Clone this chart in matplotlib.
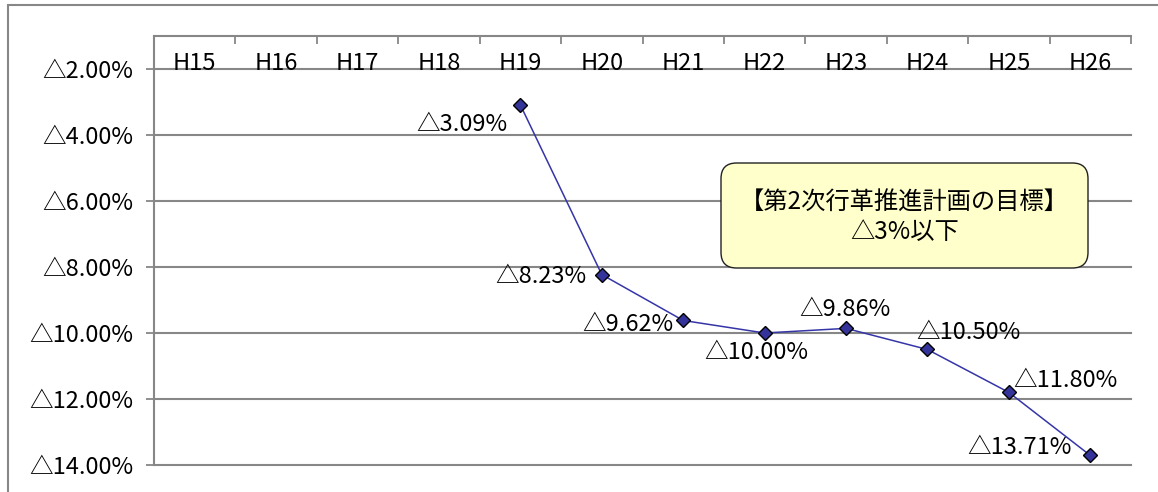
import numpy as np
import matplotlib
matplotlib.use("Agg")
import matplotlib.pyplot as plt
from matplotlib.patches import Rectangle, FancyBboxPatch
from matplotlib.transforms import blended_transform_factory

plt.rcParams['font.family'] = ['Noto Sans CJK JP', 'DejaVu Sans']

# Fiscal years (Heisei era) and personnel-cost reduction rate vs. base year (%)
years = ["H15", "H16", "H17", "H18", "H19", "H20", "H21", "H22", "H23", "H24", "H25", "H26"]
reduction = [np.nan, np.nan, np.nan, np.nan, -3.09, -8.23, -9.62, -10.00, -9.86, -10.50, -11.80, -13.71]
y_ticks = [-2, -4, -6, -8, -10, -12, -14]
goal_title = "【第2次行革推進計画の目標】"
goal_text = "△3%以下"

# label placement: (dx px, dy px, ha, va)
label_place = {
    4: (-13, -20, "right", "center"),
    5: (-15, -2, "right", "center"),
    6: (-10, -4, "right", "center"),
    7: (-8, -20, "center", "center"),
    8: (-1, 19, "center", "center"),
    9: (-11, 17, "left", "center"),
    10: (4, 12, "left", "center"),
    11: (-19, 8, "right", "center"),
}

W, H = 1158, 492
AX_L, AX_R, AX_T, AX_B = 154, 1131, 36, 465
AW, AH = AX_R - AX_L, AX_B - AX_T
fig = plt.figure(figsize=(W / 100, H / 100), dpi=100)
ax = fig.add_axes([AX_L / W, 1 - AX_B / H, AW / W, AH / H])

grey = "#878787"
FS = 17

# outer chart frame (only its top and left edges are in view)
fig.patches.append(Rectangle((8 / W, -0.5), 2.0, 1.5 - 5 / H, transform=fig.transFigure,
                             fill=False, ec=grey, lw=1.5, clip_on=False))

x = np.arange(len(years))
ax.plot(x, reduction, color="#3535a8", lw=1.1, marker="D", markersize=7,
        markerfacecolor="#333399", markeredgecolor="black", markeredgewidth=1.0,
        zorder=5, clip_on=False)

ax.set_xlim(-0.5, len(years) - 0.5)
ax.set_ylim(-14, -1)

# y axis
ax.set_yticks(y_ticks)
ax.set_yticklabels([f"△{abs(v):.2f}%" for v in y_ticks])
ax.tick_params(axis="y", length=6, width=1.3, color=grey, pad=9, labelsize=FS)
for v in y_ticks:
    ax.axhline(v, color=grey, lw=1.5, zorder=1, clip_on=False)

# x axis along the top with boundary ticks pointing into the plot
ax.xaxis.tick_top()
ax.set_xticks(np.arange(-0.5, len(years)))
ax.set_xticklabels([])
ax.tick_params(axis="x", which="major", direction="in", length=5.5, width=1.3, color=grey)
lab_tr = blended_transform_factory(ax.transData, ax.transAxes)
for i, name in enumerate(years):
    ax.text(i, 1 - 27 / AH, name, transform=lab_tr, ha="center", va="center", fontsize=FS)

for side in ("right", "bottom"):
    ax.spines[side].set_visible(False)
for side in ("left", "top"):
    ax.spines[side].set_color(grey)
    ax.spines[side].set_linewidth(1.5)

# value labels
for i, (dx, dy, ha, va) in label_place.items():
    ax.annotate(f"△{abs(reduction[i]):.2f}%", (x[i], reduction[i]), xytext=(dx, dy),
                textcoords="offset pixels", ha=ha, va=va, fontsize=FS, zorder=6)

# target callout
bx0, bx1, by0, by1 = 721, 1088, 163, 268
box = FancyBboxPatch(((bx0 - AX_L) / AW, 1 - (by1 - AX_T) / AH),
                     (bx1 - bx0) / AW, (by1 - by0) / AH,
                     boxstyle="round,pad=0,rounding_size=0.016", mutation_aspect=AW / AH,
                     transform=ax.transAxes, fc="#FFFFCC", ec="#222222", lw=1.0, zorder=4)
ax.add_patch(box)
cx = ((bx0 + bx1) / 2 - AX_L) / AW
ax.text(cx, 1 - (203 - AX_T) / AH, goal_title, transform=ax.transAxes,
        ha="center", va="center", fontsize=17.5, zorder=4.5)
ax.text(cx, 1 - (232 - AX_T) / AH, goal_text, transform=ax.transAxes,
        ha="center", va="center", fontsize=17.5, zorder=4.5)

fig.savefig("out.png", dpi=100)
